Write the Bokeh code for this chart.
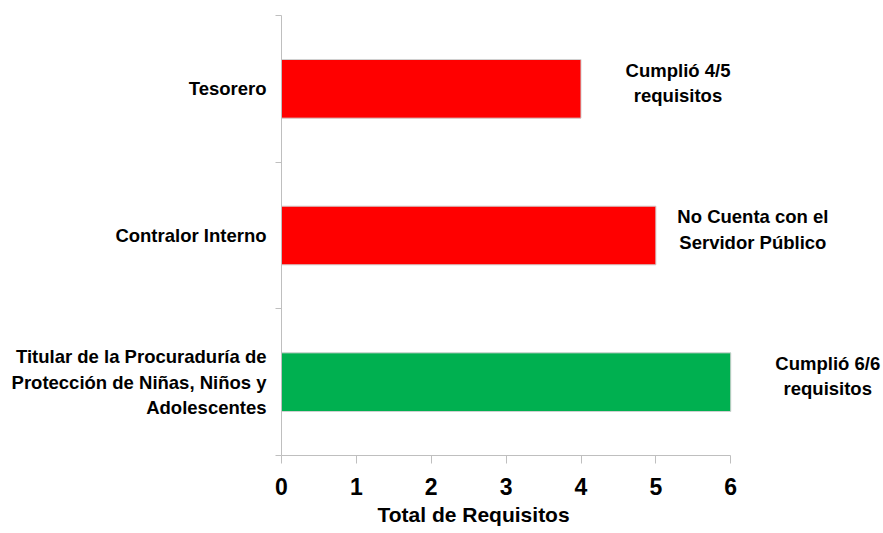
from bokeh.plotting import figure
from bokeh.models import FixedTicker, Range1d, Title, ColumnDataSource
from bokeh.core.properties import value
from bokeh.embed import file_html
from bokeh.resources import INLINE

# Data (bottom to top)
categories = [
    "Titular de la Procuraduría de\nProtección de Niñas, Niños y\nAdolescentes",
    "Contralor Interno",
    "Tesorero",
]
requisitos = [6, 5, 4]
bar_colors = ["#00B050", "#FF0000", "#FF0000"]
notes = [
    "Cumplió 6/6\nrequisitos",
    "No Cuenta con el\nServidor Público",
    "Cumplió 4/5\nrequisitos",
]
x_ticks = [0, 1, 2, 3, 4, 5, 6]
x_title = "Total de Requisitos"

FONT = "Liberation Sans"
GRAY = "#bfbfbf"

ypos = [i + 0.5 for i in range(len(categories))]
src = ColumnDataSource(dict(y=ypos, v=requisitos, c=bar_colors, note=notes))

p = figure(width=883, height=533, output_backend="svg", toolbar_location=None,
           x_range=Range1d(0, 8.04), y_range=Range1d(0, len(categories)),
           min_border_left=281, min_border_top=15, min_border_right=0,
           min_border_bottom=78)
p.outline_line_color = None
p.grid.visible = False

p.hbar(y="y", left=0, right="v", height=0.4, fill_color="c",
       line_color="#d0d0d0", line_width=1, source=src)

p.text(x="v", y="y", text="note", source=src, x_offset=97, y_offset=-6,
       text_align="center", text_baseline="middle", text_font=value(FONT),
       text_font_style="bold", text_font_size="18.5px", text_color="black",
       text_line_height=1.2)

# x axis
xa = p.xaxis[0]
xa.ticker = FixedTicker(ticks=x_ticks)
xa.bounds = (min(x_ticks), max(x_ticks))
xa.axis_line_color = GRAY
xa.major_tick_line_color = GRAY
xa.major_tick_out = 8
xa.major_tick_in = 0
xa.minor_tick_line_color = None
xa.major_label_text_font = FONT
xa.major_label_text_font_style = "bold"
xa.major_label_text_font_size = "23px"
xa.major_label_text_color = "black"
xa.major_label_standoff = 14

# y axis
ya = p.yaxis[0]
ya.ticker = FixedTicker(ticks=ypos, minor_ticks=list(range(len(categories) + 1)))
ya.major_label_overrides = {y: c for y, c in zip(ypos, categories)}
ya.axis_line_color = GRAY
ya.major_tick_line_color = None
ya.major_tick_out = 0
ya.major_tick_in = 0
ya.minor_tick_line_color = GRAY
ya.minor_tick_out = 6
ya.minor_tick_in = 0
ya.major_label_standoff = 9
ya.major_label_text_font = FONT
ya.major_label_text_font_style = "bold"
ya.major_label_text_font_size = "18.5px"
ya.major_label_text_color = "black"
ya.major_label_text_align = "right"

p.add_layout(Title(text=x_title, align="left", offset=96,
                   text_font=FONT, text_font_style="bold",
                   text_font_size="21px", text_color="black",
                   standoff=6), "below")

open("out.html", "w").write(file_html(p, INLINE))
